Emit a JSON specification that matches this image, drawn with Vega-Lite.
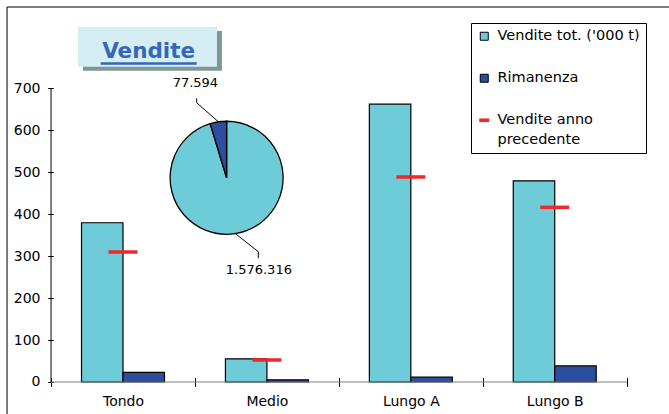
{
  "$schema": "https://vega.github.io/schema/vega-lite/v6.json",
  "width": 662,
  "height": 407,
  "autosize": "none",
  "padding": {"left": 7, "top": 7, "right": 0, "bottom": 0},
  "background": "white",
  "config": {
    "view": {"stroke": null},
    "font": "DejaVu Sans"
  },
  "datasets": {
    "vendite": [
      {"categoria": "Tondo", "serie": "Vendite tot. ('000 t)", "valore": 379.5},
      {"categoria": "Tondo", "serie": "Rimanenza", "valore": 22.8},
      {"categoria": "Tondo", "serie": "Vendite anno precedente", "valore": 309.8},
      {"categoria": "Medio", "serie": "Vendite tot. ('000 t)", "valore": 55.3},
      {"categoria": "Medio", "serie": "Rimanenza", "valore": 5.2},
      {"categoria": "Medio", "serie": "Vendite anno precedente", "valore": 52.4},
      {"categoria": "Lungo A", "serie": "Vendite tot. ('000 t)", "valore": 662.1},
      {"categoria": "Lungo A", "serie": "Rimanenza", "valore": 11.4},
      {"categoria": "Lungo A", "serie": "Vendite anno precedente", "valore": 488.6},
      {"categoria": "Lungo B", "serie": "Vendite tot. ('000 t)", "valore": 479.4},
      {"categoria": "Lungo B", "serie": "Rimanenza", "valore": 38.2},
      {"categoria": "Lungo B", "serie": "Vendite anno precedente", "valore": 416.3}
    ],
    "torta": [
      {"serie": "Vendite tot. ('000 t)", "valore": 1576316, "etichetta": "1.576.316"},
      {"serie": "Rimanenza", "valore": 77594, "etichetta": "77.594"}
    ]
  },
  "layer": [
    {
      "data": {"values": [{"bordo": "alto"}]},
      "mark": {"type": "rule", "color": "black", "strokeWidth": 1},
      "encoding": {"y": {"datum": 893.7}}
    },
    {
      "data": {"values": [{"bordo": "sinistra"}]},
      "mark": {"type": "rule", "color": "black", "strokeWidth": 1},
      "encoding": {"x": {"datum": "Tondo", "bandPosition": -0.3058}}
    },
    {
      "data": {"values": [{"titolo": "Vendite"}]},
      "mark": {"type": "rect", "fill": "#7f9797"},
      "encoding": {
        "x": {"datum": "Tondo", "bandPosition": 0.222},
        "x2": {"datum": "Tondo", "bandPosition": 1.1875},
        "y": {"datum": 836.5},
        "y2": {"datum": 741.9}
      }
    },
    {
      "data": {"values": [{"titolo": "Vendite"}]},
      "mark": {"type": "rect", "fill": "#d4eef3"},
      "encoding": {
        "x": {"datum": "Tondo", "bandPosition": 0.1875},
        "x2": {"datum": "Tondo", "bandPosition": 1.153},
        "y": {"datum": 846.1},
        "y2": {"datum": 751.4}
      }
    },
    {
      "data": {"values": [{"titolo": "Vendite"}]},
      "mark": {"type": "rule", "color": "#3565bd", "strokeWidth": 2.5},
      "encoding": {
        "x": {"datum": "Tondo", "bandPosition": 0.345},
        "x2": {"datum": "Tondo", "bandPosition": 1.012},
        "y": {"datum": 759.1}
      }
    },
    {
      "data": {"values": [{"titolo": "Vendite"}]},
      "mark": {"type": "text", "font": "DejaVu Sans", "fontWeight": "bold", "fontSize": 21.5, "color": "#3565bd", "align": "center", "baseline": "alphabetic"},
      "encoding": {
        "x": {"datum": "Tondo", "bandPosition": 0.678},
        "y": {"datum": 772.9},
        "text": {"field": "titolo"}
      }
    },
    {
      "data": {"name": "vendite"},
      "transform": [{"filter": "datum.serie !== 'Vendite anno precedente'"}],
      "mark": {"type": "bar", "stroke": "black", "strokeWidth": 1.2},
      "encoding": {
        "x": {
          "field": "categoria", "type": "nominal", "sort": null,
          "scale": {"paddingOuter": 0.3, "paddingInner": 0, "align": 0.51},
          "axis": {
            "title": null, "orient": "bottom", "offset": -36.5, "domain": false,
            "tickBand": "extent", "tickSize": 9, "tickColor": "black", "tickWidth": 1,
            "labelFont": "DejaVu Sans", "labelFontSize": 14, "labelColor": "black",
            "labelPadding": 8, "labelAngle": 0, "labelAlign": "center", "labelBaseline": "top",
            "grid": false
          }
        },
        "xOffset": {
          "field": "serie", "type": "nominal",
          "scale": {"domain": ["Vendite tot. ('000 t)", "Rimanenza"], "paddingOuter": 0.735, "paddingInner": 0}
        },
        "y": {
          "field": "valore", "type": "quantitative",
          "scale": {"domain": [-76.3, 893.7], "nice": false, "zero": false},
          "axis": {
            "title": null, "offset": -46.3, "domain": false, "grid": false,
            "values": [0, 100, 200, 300, 400, 500, 600, 700],
            "tickSize": 5.6, "tickColor": "black", "tickWidth": 1,
            "labelFont": "DejaVu Sans", "labelFontSize": 14, "labelColor": "black",
            "labelPadding": 7.7
          }
        },
        "y2": {"datum": 0},
        "color": {
          "field": "serie", "type": "nominal",
          "scale": {
            "domain": ["Vendite tot. ('000 t)", "Rimanenza", "Vendite anno precedente"],
            "range": ["#6ecbd8", "#2d4d9e", "#f02828"]
          },
          "legend": {
            "title": null, "orient": "none", "legendX": 464, "legendY": 16,
            "fillColor": "white", "strokeColor": "black", "padding": 6,
            "labelFont": "DejaVu Sans", "labelFontSize": 14.5, "labelColor": "black",
            "symbolType": "square", "symbolSize": 64, "symbolStrokeColor": "black",
            "symbolStrokeWidth": 1, "symbolOpacity": 1, "rowPadding": 27, "labelOffset": 6, "labelLimit": 300,
            "labelExpr": "datum.label === 'Vendite anno precedente' ? ['Vendite anno', 'precedente'] : datum.label",
            "encode": {
              "labels": {"update": {"lineHeight": {"value": 20}}},
              "symbols": {
                "update": {
                  "shape": {"signal": "datum.value === 'Vendite anno precedente' ? 'M-1.25,-0.45H1.25V0.45H-1.25Z' : 'square'"},
                  "strokeWidth": {"signal": "datum.value === 'Vendite anno precedente' ? 0 : 1"},
                  "opacity": {"value": 1}
                }
              }
            }
          }
        }
      }
    },
    {
      "data": {"name": "vendite"},
      "transform": [{"filter": "datum.serie === 'Vendite anno precedente'"}],
      "mark": {"type": "tick", "thickness": 3.5, "size": 29, "opacity": 1},
      "encoding": {
        "x": {"field": "categoria", "type": "nominal", "sort": null},
        "y": {"field": "valore", "type": "quantitative"},
        "color": {"field": "serie", "type": "nominal"}
      }
    },
    {
      "data": {"values": [{"asse": "x"}]},
      "mark": {"type": "rule", "color": "#808080", "strokeWidth": 1.2},
      "encoding": {
        "x": {"datum": "Tondo", "bandPosition": 0},
        "x2": {"datum": "Lungo B", "bandPosition": 1},
        "y": {"datum": 0}
      }
    },
    {
      "data": {"values": [{"asse": "y"}]},
      "mark": {"type": "rule", "color": "black", "strokeWidth": 1},
      "encoding": {
        "x": {"datum": "Tondo", "bandPosition": 0},
        "y": {"datum": 0},
        "y2": {"datum": 700}
      }
    },
    {
      "data": {"name": "torta"},
      "mark": {"type": "arc", "outerRadius": 56.5, "stroke": "black", "strokeWidth": 1.3},
      "encoding": {
        "theta": {"field": "valore", "type": "quantitative", "stack": true},
        "order": {"field": "valore", "sort": "descending"},
        "color": {"field": "serie", "type": "nominal"},
        "x": {"datum": "Medio", "bandPosition": 0.22},
        "y": {"datum": 486.7}
      }
    },
    {
      "data": {"name": "torta"},
      "transform": [{"filter": "datum.serie === 'Rimanenza'"}],
      "mark": {"type": "text", "font": "DejaVu Sans", "fontSize": 13, "color": "black", "align": "center", "baseline": "middle"},
      "encoding": {
        "x": {"datum": "Medio", "bandPosition": 0.003},
        "y": {"datum": 712.6},
        "text": {"field": "etichetta"}
      }
    },
    {
      "data": {"name": "torta"},
      "transform": [{"filter": "datum.serie !== 'Rimanenza'"}],
      "mark": {"type": "text", "font": "DejaVu Sans", "fontSize": 13, "color": "black", "align": "center", "baseline": "middle"},
      "encoding": {
        "x": {"datum": "Medio", "bandPosition": 0.444},
        "y": {"datum": 266.9},
        "text": {"field": "etichetta"}
      }
    },
    {
      "data": {"values": [{"linea": "a"}]},
      "mark": {"type": "rule", "color": "black", "strokeWidth": 1},
      "encoding": {
        "x": {"datum": "Medio", "bandPosition": 0.0118},
        "x2": {"datum": "Medio", "bandPosition": 0.0118},
        "y": {"datum": 676.1},
        "y2": {"datum": 665.6}
      }
    },
    {
      "data": {"values": [{"linea": "b"}]},
      "mark": {"type": "rule", "color": "black", "strokeWidth": 1},
      "encoding": {
        "x": {"datum": "Medio", "bandPosition": 0.0118},
        "x2": {"datum": "Medio", "bandPosition": 0.162},
        "y": {"datum": 665.6},
        "y2": {"datum": 620.4}
      }
    },
    {
      "data": {"values": [{"linea": "c"}]},
      "mark": {"type": "rule", "color": "black", "strokeWidth": 1},
      "encoding": {
        "x": {"datum": "Medio", "bandPosition": 0.278},
        "x2": {"datum": "Medio", "bandPosition": 0.44},
        "y": {"datum": 354.4},
        "y2": {"datum": 310.5}
      }
    },
    {
      "data": {"values": [{"linea": "d"}]},
      "mark": {"type": "rule", "color": "black", "strokeWidth": 1},
      "encoding": {
        "x": {"datum": "Medio", "bandPosition": 0.44},
        "x2": {"datum": "Medio", "bandPosition": 0.44},
        "y": {"datum": 310.5},
        "y2": {"datum": 294.8}
      }
    }
  ]
}
